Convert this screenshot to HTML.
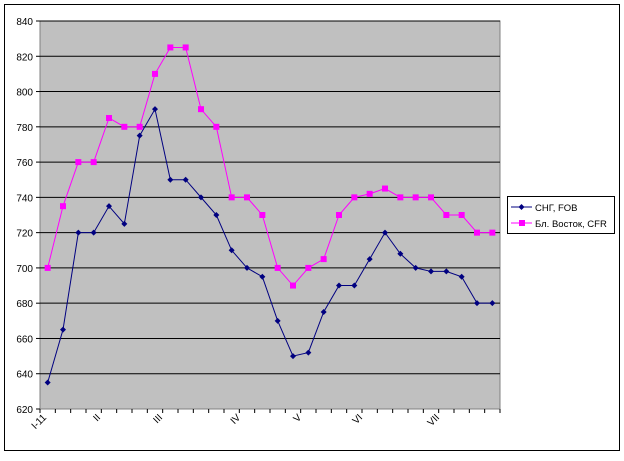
<!DOCTYPE html>
<html><head><meta charset="utf-8"><style>body{margin:0;background:#fff}</style></head><body>
<svg width="624" height="456" xmlns="http://www.w3.org/2000/svg" font-family="Liberation Sans, sans-serif" font-size="10">
<rect x="4.5" y="4.5" width="615" height="446" fill="#fff" stroke="#000"/>
<rect x="40" y="21" width="460" height="388" fill="#c0c0c0" stroke="#808080"/>
<g id="grid" stroke="#000" stroke-width="1"></g>
<g id="ylab" text-anchor="end"></g>
<g id="xt" stroke="#000"></g>
<g id="xl" text-anchor="end"></g>
<polyline id="pb" fill="none" stroke="#000080" stroke-width="1"/>
<polyline id="pp" fill="none" stroke="#ff00ff" stroke-width="1"/>
<g id="mk"></g>
<rect x="507.5" y="196.5" width="107" height="37" fill="#fff" stroke="#000"/>
<line x1="511" y1="207" x2="532" y2="207" stroke="#000080"/><path d="M521.5 204l3 3-3 3-3-3z" fill="#000080"/>
<text x="535" y="211" font-size="9.5">СНГ, FOB</text>
<line x1="511" y1="223" x2="532" y2="223" stroke="#ff00ff"/><rect x="519" y="220" width="6" height="6" fill="#ff00ff"/>
<text x="535" y="227" font-size="9.5">Бл. Восток, CFR</text>
</svg>
<script>
var ns="http://www.w3.org/2000/svg";
function el(p,t,a,tx){var e=document.createElementNS(ns,t);for(var k in a)e.setAttribute(k,a[k]);if(tx)e.textContent=tx;document.getElementById(p).appendChild(e);}
function Y(v){return 409-(v-620)*388/220;}
for(var v=620;v<=840;v+=20){var y=Y(v);if(v>620)el("grid","line",{x1:40,x2:500,y1:y,y2:y});el("grid","line",{x1:36,x2:40,y1:y,y2:y});el("ylab","text",{x:33,y:y+4},""+v);}
var w=460/30;
for(var i=0;i<=30;i++){var x=40+i*w;el("xt","line",{x1:x,x2:x,y1:409,y2:413});}
var L=[["I-11",47],["II",101],["III",163],["IV",241],["V",302],["VI",363],["VII",440]];
L.forEach(function(l){el("xl","text",{x:l[1],y:418,transform:"rotate(-45 "+l[1]+" 418)"},l[0]);});
var b=[635,665,720,720,735,725,775,790,750,750,740,730,710,700,695,670,650,652,675,690,690,705,720,708,700,698,698,695,680,680];
var p=[700,735,760,760,785,780,780,810,825,825,790,780,740,740,730,700,690,700,705,730,740,742,745,740,740,740,730,730,720,720];
var pb=[],pp=[];
for(var i=0;i<30;i++){var x=40+(i+0.5)*w;pb.push(x+","+Y(b[i]));pp.push(x+","+Y(p[i]));}
document.getElementById("pb").setAttribute("points",pb.join(" "));
document.getElementById("pp").setAttribute("points",pp.join(" "));
for(var i=0;i<30;i++){var x=40+(i+0.5)*w;
el("mk","rect",{x:x-3,y:Y(p[i])-3,width:6,height:6,fill:"#ff00ff"});
var y=Y(b[i]);el("mk","path",{d:"M"+x+" "+(y-3)+"l3 3-3 3-3-3z",fill:"#000080"});}
</script>
</body></html>
